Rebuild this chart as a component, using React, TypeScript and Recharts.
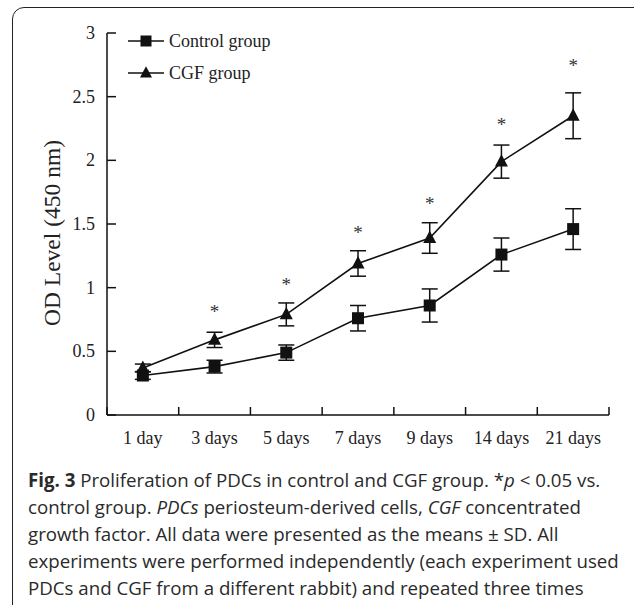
import React from 'react';
import { LineChart, Line, XAxis, YAxis, ErrorBar } from 'recharts';

// OD values (means and SD per time point)
const days = ['1 day', '3 days', '5 days', '7 days', '9 days', '14 days', '21 days'];
const controlMean = [0.31, 0.38, 0.49, 0.76, 0.86, 1.26, 1.46];
const controlSd = [0.03, 0.05, 0.06, 0.1, 0.13, 0.13, 0.16];
const cgfMean = [0.37, 0.59, 0.79, 1.19, 1.39, 1.99, 2.35];
const cgfSd = [0.03, 0.06, 0.09, 0.1, 0.12, 0.13, 0.18];
// height of the * (p < 0.05) marks
const starLevel = [null, 0.84, 1.05, 1.46, 1.69, 2.31, 2.77];
const yTicks = [0, 0.5, 1, 1.5, 2, 2.5, 3];

const data = days.map((d, i) => ({
  day: d,
  pos: i + 0.5,
  control: controlMean[i],
  controlSd: controlSd[i],
  cgf: cgfMean[i],
  cgfSd: cgfSd[i],
  star: starLevel[i],
}));

const xTicks = days.flatMap((_, i) => [i, i + 0.5]).concat(days.length);

const serif = '"Liberation Serif", "Times New Roman", serif';
const ink = '#111';

const Square = ({ cx, cy, size = 12 }: any) => {
  if (cx == null || cy == null) return null;
  return <rect x={cx - size / 2} y={cy - size / 2} width={size} height={size} fill={ink} />;
};

const Triangle = ({ cx, cy, size = 13 }: any) => {
  if (cx == null || cy == null) return null;
  const h = size * 0.95;
  return (
    <polygon
      points={`${cx},${cy - h * 0.6} ${cx - size / 2},${cy + h * 0.4} ${cx + size / 2},${cy + h * 0.4}`}
      fill={ink}
    />
  );
};

const Star = ({ cx, cy, payload }: any) => {
  if (cx == null || cy == null || payload.star == null) return null;
  return (
    <text x={cx} y={cy + 10} textAnchor="middle" fontFamily={serif} fontSize={19} fill="#333">
      *
    </text>
  );
};

const XTick = ({ x, y, payload }: any) => {
  const v = payload.value;
  if (Number.isInteger(v)) {
    return <line x1={x} y1={y} x2={x} y2={y - 8} stroke={ink} strokeWidth={1.5} />;
  }
  return (
    <text x={x} y={y + 29} textAnchor="middle" fontFamily={serif} fontSize={18} fill="#222">
      {days[Math.floor(v)]}
    </text>
  );
};

const YTick = ({ x, y, payload }: any) => (
  <g>
    <line x1={x} y1={y} x2={x + 9} y2={y} stroke={ink} strokeWidth={1.5} />
    <text x={x - 12} y={y + 6} textAnchor="end" fontFamily={serif} fontSize={18} fill="#222">
      {payload.value}
    </text>
  </g>
);

const LegendBox = () => (
  <svg width={190} height={70} style={{ position: 'absolute', left: 118, top: 22 }}>
    <line x1={10} y1={19} x2={46} y2={19} stroke={ink} strokeWidth={1.5} />
    <Square cx={28} cy={19} size={11} />
    <text x={51} y={25} fontFamily={serif} fontSize={18} fill="#222">Control group</text>
    <line x1={10} y1={51} x2={46} y2={51} stroke={ink} strokeWidth={1.5} />
    <Triangle cx={28} cy={51} size={12} />
    <text x={51} y={57} fontFamily={serif} fontSize={18} fill="#222">CGF group</text>
  </svg>
);

const YLabel = ({ viewBox }: any) => {
  const cx = 52;
  const cy = viewBox.y + viewBox.height / 2 + 9;
  return (
    <text
      x={cx}
      y={cy}
      transform={`rotate(-90 ${cx} ${cy})`}
      textAnchor="middle"
      dominantBaseline="central"
      fontFamily={serif}
      fontSize={23.5}
      fill="#222"
    >
      OD Level (450 nm)
    </text>
  );
};

const captionLines = [
  <>
    <b>Fig. 3</b> Proliferation of PDCs in control and CGF group. *<i>p</i> &lt; 0.05 vs.
  </>,
  <>
    control group. <i>PDCs</i> periosteum-derived cells, <i>CGF</i> concentrated
  </>,
  <>growth factor. All data were presented as the means ± SD. All</>,
  <>experiments were performed independently (each experiment used</>,
  <>PDCs and CGF from a different rabbit) and repeated three times</>,
];

export default function App() {
  return (
    <div style={{ position: 'absolute', left: 0, top: 0, width: 634, height: 605, overflow: 'hidden', background: '#fff' }}>
      <div
        style={{
          position: 'absolute',
          left: 12,
          top: 7,
          width: 640,
          height: 640,
          border: '1.5px solid #222',
          borderRadius: 12,
          boxSizing: 'border-box',
        }}
      />
      <div style={{ position: 'absolute', left: 0, top: 0 }}>
        <LineChart width={634} height={460} data={data} margin={{ top: 33, right: 25, left: 0, bottom: 0 }}>
          <XAxis
            dataKey="pos"
            type="number"
            domain={[0, days.length]}
            ticks={xTicks}
            interval={0}
            tick={<XTick />}
            tickLine={false}
            tickSize={0}
            tickMargin={0}
            height={45}
            axisLine={{ stroke: ink, strokeWidth: 1.5 }}
          />
          <YAxis
            type="number"
            domain={[0, 3]}
            ticks={yTicks}
            interval={0}
            tick={<YTick />}
            tickLine={false}
            tickSize={0}
            tickMargin={0}
            width={107}
            axisLine={{ stroke: ink, strokeWidth: 1.5 }}
            label={<YLabel />}
          />
          <Line
            dataKey="control"
            name="Control group"
            stroke={ink}
            strokeWidth={1.6}
            dot={<Square />}
            activeDot={false}
            isAnimationActive={false}
          >
            <ErrorBar dataKey="controlSd" direction="y" width={8} stroke={ink} strokeWidth={1.5} />
          </Line>
          <Line
            dataKey="cgf"
            name="CGF group"
            stroke={ink}
            strokeWidth={1.6}
            dot={<Triangle />}
            activeDot={false}
            isAnimationActive={false}
          >
            <ErrorBar dataKey="cgfSd" direction="y" width={8} stroke={ink} strokeWidth={1.5} />
          </Line>
          <Line
            dataKey="star"
            stroke="none"
            dot={<Star />}
            activeDot={false}
            legendType="none"
            isAnimationActive={false}
          />
        </LineChart>
        <LegendBox />
      </div>
      <div
        style={{
          position: 'absolute',
          left: 28,
          top: 466,
          fontFamily: '"Open Sans", "Noto Sans", sans-serif',
          fontSize: 18.7,
          lineHeight: '27px',
          color: '#2a2a2a',
          whiteSpace: 'nowrap',
        }}
      >
        {captionLines.map((l, i) => (
          <div key={i}>{l}</div>
        ))}
      </div>
    </div>
  );
}
